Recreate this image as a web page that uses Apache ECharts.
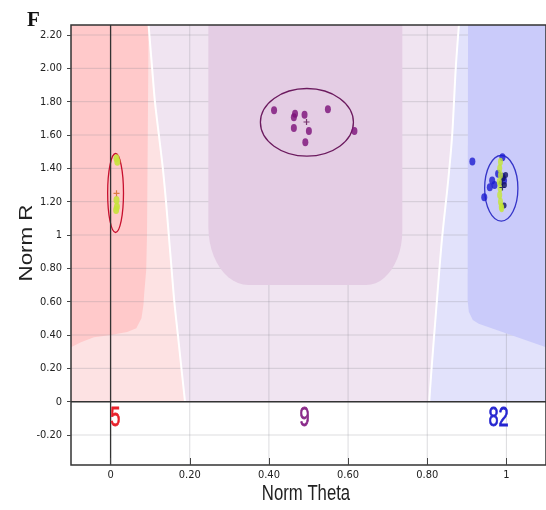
<!DOCTYPE html>
<html><head><meta charset="utf-8">
<script src="https://cdn.jsdelivr.net/npm/echarts@6/dist/echarts.min.js"></script>
<style>html,body{margin:0;padding:0;background:#fff}#c{width:546px;height:510px}</style>
</head><body><div id="c"></div>
<script>
// ---- axes ----
const xMin = -0.1, xMax = 1.1, yMin = -0.38, yMax = 2.26;
const xTicks = [0, 0.2, 0.4, 0.6, 0.8, 1];
const yTicks = [-0.2, 0, 0.2, 0.4, 0.6, 0.8, 1, 1.2, 1.4, 1.6, 1.8, 2, 2.2];

// ---- class counts (labels under the zero line) ----
const classNames = ['5', '9', '82'];
const classCountPos = [[0.012, -0.1], [0.49, -0.1], [0.98, -0.1]];
const classColors = ['#e8202a', '#8a2a8a', '#2424d0'];

// ---- decision regions (data coordinates) ----
const regionLavender = [[-0.1, 0], [1.1, 0], [1.1, 2.26], [-0.1, 2.26]];
const pinkBoundary = [[0.096, 2.26], [0.105, 2.0], [0.112, 1.8], [0.122, 1.6], [0.132, 1.4], [0.14, 1.2], [0.147, 1.0], [0.154, 0.8], [0.161, 0.6], [0.17, 0.4], [0.179, 0.2], [0.188, 0]];
const blueBoundary = [[0.88, 2.26], [0.872, 2.0], [0.863, 1.6], [0.853, 1.33], [0.837, 0.97], [0.823, 0.565], [0.81, 0.17], [0.805, 0]];
const regionStrongPink = [[-0.1, 2.26], [0.096, 2.26], [0.094, 1.6], [0.092, 1.0], [0.09, 0.79], [0.085, 0.65], [0.083, 0.58], [0.078, 0.5], [0.065, 0.44], [0.042, 0.418], [0.0, 0.4], [-0.042, 0.386], [-0.075, 0.356], [-0.1, 0.326]];
const regionDarkBlue = [[0.903, 2.26], [1.1, 2.26], [1.1, 0.326], [0.93, 0.468], [0.915, 0.49], [0.905, 0.54], [0.902, 0.607]];
const purpleBox = [0.247, 0.737, 0.70, 2.26]; // xmin, xmax, ymin, ymax

// ---- samples ----
const class5Points = [[0.015, 1.46], [0.017, 1.44], [0.015, 1.21], [0.016, 1.17], [0.014, 1.15]];
const class9Points = [[0.413, 1.748], [0.466, 1.728], [0.463, 1.707], [0.49, 1.722], [0.463, 1.642], [0.501, 1.624], [0.492, 1.557], [0.549, 1.754], [0.616, 1.624]];
const class82Blue = [[0.914, 1.441], [0.944, 1.227], [0.958, 1.287], [0.964, 1.327], [0.99, 1.467], [0.979, 1.367], [0.994, 1.327], [0.99, 1.35], [0.97, 1.30]];
const class82Navy = [[0.986, 1.31], [0.995, 1.30], [0.992, 1.34], [0.994, 1.177], [0.998, 1.36]];
const class82Green = [[0.985, 1.44], [0.983, 1.40], [0.985, 1.36], [0.982, 1.32], [0.984, 1.28], [0.983, 1.24], [0.985, 1.20], [0.987, 1.17], [0.988, 1.16]];
const classCenters = [[0.015, 1.25], [0.495, 1.678], [0.99, 1.285]];
const centerColors = ['#d2691e', '#5a1050', '#101060'];

// ---- cluster ellipses: cx, cy, rx, ry ----
const clusterEllipses = [[0.0126, 1.252, 0.02, 0.237], [0.496, 1.676, 0.1175, 0.203], [0.987, 1.28, 0.042, 0.197]];
const ellipseColors = ['#c8102e', '#6b1a5e', '#3535c8'];

const tickFont = '"Liberation Sans Narrow", "DejaVu Sans Condensed", "Arial Narrow", sans-serif';
const fmt = v => Math.abs(v) < 1e-9 ? '0' : (Math.abs(v - 1) < 1e-9 ? '1' : v.toFixed(2));

function polySeries(verts, color, z) {
  return {
    type: 'custom', z: z, silent: true, clip: true, data: [0],
    renderItem: (p, api) => ({
      type: 'polygon',
      shape: { points: verts.map(v => api.coord(v)) },
      style: { fill: color }
    })
  };
}

const chart = echarts.init(document.getElementById('c'), null, { renderer: 'canvas' });
const option = {
  animation: false,
  grid: { left: 71, top: 25, width: 477, height: 440, show: true, borderColor: '#333', borderWidth: 1.5, z: 10, backgroundColor: 'transparent' },
  xAxis: {
    type: 'value', min: xMin, max: xMax, position: 'bottom', z: 12,
    axisLine: { show: false, onZero: false },
    axisTick: { show: true, customValues: xTicks, inside: true, length: 7, lineStyle: { color: '#444' } },
    axisLabel: { customValues: xTicks, formatter: fmt, margin: 5, fontFamily: tickFont, fontSize: 11, color: '#222' },
    splitLine: { show: false }
  },
  yAxis: {
    type: 'value', min: yMin, max: yMax, position: 'left', z: 12,
    axisLine: { show: false, onZero: false },
    axisTick: { show: true, customValues: yTicks, inside: false, length: 4, lineStyle: { color: '#444' } },
    axisLabel: { customValues: yTicks, formatter: fmt, margin: 9, fontFamily: tickFont, fontSize: 11, color: '#222' },
    splitLine: { show: false }
  },
  graphic: [
    { type: 'text', left: 27, top: 10, style: { text: 'F', font: 'bold 21px "Liberation Serif", serif', fill: '#111' } },
    { type: 'text', x: 27, y: 243, rotation: Math.PI / 2, scaleX: 1.24, style: { text: 'Norm R', x: 0, y: 0, align: 'center', verticalAlign: 'middle', font: '18px "Liberation Sans", Arial, sans-serif', fill: '#222' } },
    { type: 'text', x: 306, y: 494, scaleX: 0.76, style: { text: 'Norm Theta', x: 0, y: 0, align: 'center', verticalAlign: 'middle', font: '22px "Liberation Sans", Arial, sans-serif', fill: '#222' } }
  ],
  series: [
    polySeries(regionLavender, '#f0e4f1', 1),
    polySeries([[-0.1, 0], [-0.1, 2.26]].concat(pinkBoundary), '#fde2e3', 1),
    polySeries([[1.1, 2.26], [1.1, 0]].concat(blueBoundary.slice().reverse()), '#e2e2fb', 1),
    polySeries(regionStrongPink, '#ffc9ca', 1),
    { // grid lines
      type: 'custom', z: 2, silent: true, clip: true, data: [0],
      renderItem: (p, api) => {
        const ch = [];
        xTicks.forEach(t => {
          const a = api.coord([t, yMin]), b = api.coord([t, yMax]);
          ch.push({ type: 'line', shape: { x1: a[0], y1: a[1], x2: b[0], y2: b[1] }, style: { stroke: 'rgba(140,140,150,0.3)', lineWidth: 1 } });
        });
        yTicks.forEach(t => {
          const a = api.coord([xMin, t]), b = api.coord([xMax, t]);
          ch.push({ type: 'line', shape: { x1: a[0], y1: a[1], x2: b[0], y2: b[1] }, style: { stroke: 'rgba(140,140,150,0.3)', lineWidth: 1 } });
        });
        return { type: 'group', children: ch };
      }
    },
    { // purple box with rounded bottom corners
      type: 'custom', z: 3, silent: true, clip: true, data: [0],
      renderItem: (p, api) => {
        const tl = api.coord([purpleBox[0], purpleBox[3]]);
        const br = api.coord([purpleBox[1], purpleBox[2]]);
        const pts = [];
        const rxL = 40, ryL = 58, rxR = 36, ryR = 54;
        pts.push([tl[0], tl[1]]);
        for (let i = 0; i <= 12; i++) {
          const a = Math.PI / 2 * i / 12;
          pts.push([tl[0] + rxL - rxL * Math.cos(a), br[1] - ryL + ryL * Math.sin(a)]);
        }
        for (let i = 0; i <= 12; i++) {
          const a = Math.PI / 2 * i / 12;
          pts.push([br[0] - rxR + rxR * Math.sin(a), br[1] - ryR + ryR * Math.cos(a)]);
        }
        pts.push([br[0], tl[1]]);
        return { type: 'polygon', shape: { points: pts }, style: { fill: '#e4cde4' } };
      }
    },
    polySeries(regionDarkBlue, '#cacbfa', 3),
    { type: 'line', z: 4, silent: true, symbol: 'none', smooth: 0.3, data: pinkBoundary, lineStyle: { color: '#ffffff', width: 2 } },
    { type: 'line', z: 4, silent: true, symbol: 'none', smooth: 0.3, data: blueBoundary, lineStyle: { color: '#ffffff', width: 2 } },
    { // axis cross lines at x=0 and y=0
      type: 'custom', z: 7, silent: true, clip: true, data: [0],
      renderItem: (p, api) => {
        const a = api.coord([0, yMin]), b = api.coord([0, yMax]);
        const c = api.coord([xMin, 0]), d = api.coord([xMax, 0]);
        return { type: 'group', children: [
          { type: 'line', shape: { x1: a[0], y1: a[1], x2: b[0], y2: b[1] }, style: { stroke: '#333', lineWidth: 1.3 } },
          { type: 'line', shape: { x1: c[0], y1: c[1], x2: d[0], y2: d[1] }, style: { stroke: '#333', lineWidth: 1.5 } }
        ] };
      }
    },
    { // cluster ellipses
      type: 'custom', z: 6, silent: true, data: clusterEllipses,
      renderItem: (p, api) => {
        const c = api.coord([api.value(0), api.value(1)]);
        const s = api.size([api.value(2), api.value(3)]);
        return { type: 'ellipse', shape: { cx: c[0], cy: c[1], rx: s[0], ry: s[1] }, style: { fill: 'none', stroke: ellipseColors[p.dataIndex], lineWidth: 1.3 } };
      }
    },
    { type: 'scatter', z: 8, data: class5Points, symbolSize: [6, 8], itemStyle: { color: '#c6e23a', opacity: 0.9 } },
    { type: 'scatter', z: 8, data: class9Points, symbolSize: [6, 8], itemStyle: { color: '#7a0f78' } },
    { type: 'scatter', z: 8, data: class82Blue, symbolSize: [6, 8], itemStyle: { color: '#1c1cd0' } },
    { type: 'scatter', z: 8, data: class82Navy, symbolSize: [5, 6], itemStyle: { color: '#141466' } },
    { type: 'scatter', z: 9, data: class82Green, symbolSize: [5, 8], itemStyle: { color: '#c4e636' } },
    { type: 'scatter', z: 10, data: classCenters, symbol: 'path://M0,4H10V6H0Z M4,0H6V10H4Z', symbolSize: 6,
      itemStyle: { color: p => centerColors[p.dataIndex] } },
    { // class count labels
      type: 'custom', z: 11, silent: true, data: classCountPos,
      renderItem: (p, api) => {
        const c = api.coord([api.value(0), api.value(1)]);
        return { type: 'text', x: c[0], y: c[1], scaleX: 0.65,
          style: { text: classNames[p.dataIndex], x: 0, y: 0, align: 'center', verticalAlign: 'middle', font: '28px "Liberation Sans", Arial, sans-serif', fill: classColors[p.dataIndex], stroke: classColors[p.dataIndex], lineWidth: 0.8 } };
      }
    }
  ]
};
chart.setOption(option);
</script>
</body></html>
